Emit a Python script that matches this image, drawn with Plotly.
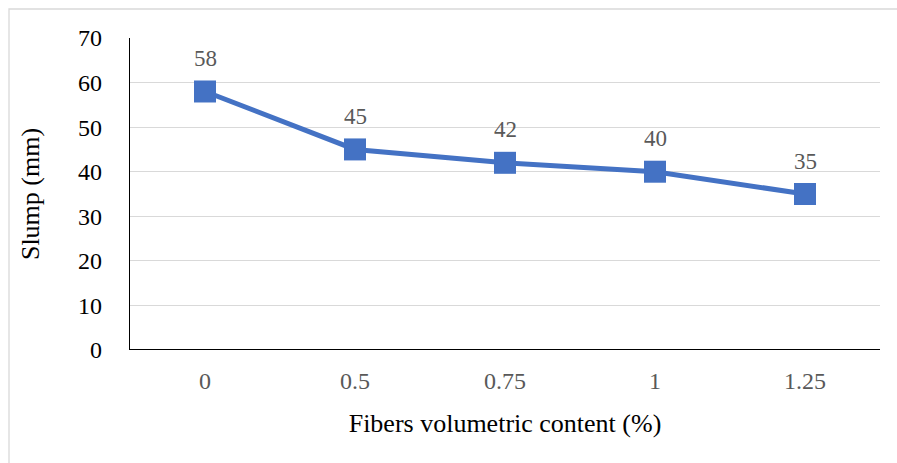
import plotly.graph_objects as go

categories = ["0", "0.5", "0.75", "1", "1.25"]
slump = [58, 45, 42, 40, 35]
y_ticks = [0, 10, 20, 30, 40, 50, 60, 70]

FONT = "Liberation Serif, Times New Roman, serif"
BLUE = "#4472C4"

fig = go.Figure()
fig.add_trace(go.Scatter(
    x=categories, y=slump, mode="lines+markers",
    line=dict(color=BLUE, width=5),
    marker=dict(symbol="square", size=22, color=BLUE),
    showlegend=False, hoverinfo="x+y",
))
for i, v in enumerate(slump):
    fig.add_annotation(x=i, y=v, text=str(v), showarrow=False, yshift=33,
                       font=dict(family=FONT, size=23, color="#595959"))

fig.update_layout(
    width=897, height=463,
    margin=dict(l=130, r=17, t=38, b=113),
    paper_bgcolor="white", plot_bgcolor="white",
    font=dict(family=FONT),
    xaxis=dict(
        type="category", categoryorder="array", categoryarray=categories,
        range=[-0.5, len(categories) - 0.5],
        showgrid=False, zeroline=False,
        showline=False, ticks="",
        tickfont=dict(family=FONT, size=24, color="#595959"),
        ticklabelstandoff=14,
        title=dict(text="Fibers volumetric content (%)", standoff=20,
                   font=dict(family=FONT, size=26, color="black")),
    ),
    yaxis=dict(
        range=[0, 70], tickvals=y_ticks,
        showgrid=True, gridcolor="#D9D9D9", gridwidth=1.3,
        zeroline=False,
        showline=True, linecolor="black", linewidth=1.3,
        ticks="", ticklabelstandoff=22,
        tickfont=dict(family=FONT, size=24, color="black"),
        title=dict(text="Slump (mm)", standoff=30,
                   font=dict(family=FONT, size=26, color="black")),
    ),
    shapes=[
        dict(type="line", xref="paper", yref="y", x0=0, x1=1, y0=0, y1=0,
             line=dict(color="black", width=2)),
        dict(type="rect", xref="paper", yref="paper",
             x0=-121 / 750, x1=1.05, y0=-0.5, y1=1 + 29 / 312,
             line=dict(color="#D9D9D9", width=1.3), layer="below"),
    ],
)

fig.write_html("out.html")
